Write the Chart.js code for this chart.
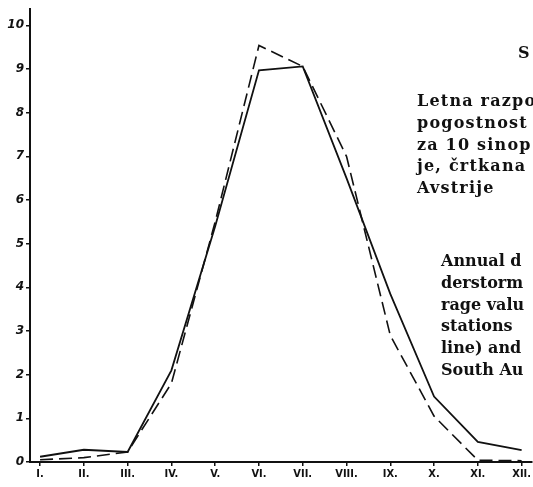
<!DOCTYPE html>
<html>
<head>
<meta charset="utf-8">
<script src="https://cdn.jsdelivr.net/npm/chart.js@4/dist/chart.umd.min.js"></script>
<style>
html,body{margin:0;padding:0;background:#fff;overflow:hidden;width:533px;height:487px;}
#wrap{position:relative;width:533px;height:487px;overflow:hidden;}
canvas{position:absolute;left:0;top:0;}
.t{position:absolute;font-family:"DejaVu Serif",serif;font-weight:bold;color:#111;white-space:nowrap;font-size:16px;line-height:21.8px;}
</style>
</head>
<body>
<div id="wrap">
<canvas id="c" width="533" height="487"></canvas>
<div class="t" style="left:518px;top:42px;">S</div>
<div class="t" style="left:417px;top:90px;letter-spacing:1.2px;">Letna razpo<br>pogostnost<br>za 10 sinop<br>je, črtkana<br>Avstrije</div>
<div class="t" style="left:441px;top:250px;">Annual d<br>derstorm<br>rage valu<br>stations<br>line) and</div>
<div class="t" style="left:441px;top:359px;">South Au</div>
</div>
<script>
const months = ["I.","II.","III.","IV.","V.","VI.","VII.","VIII.","IX.","X.","XI.","XII."];
const yTicks = [0,1,2,3,4,5,6,7,8,9,10];
const solidSeries = [0.12, 0.28, 0.23, 2.1, 5.4, 8.97, 9.06, 6.5, 3.85, 1.5, 0.46, 0.27];
const dashedSeries = [0.05, 0.1, 0.23, 1.8, 5.5, 9.54, 9.06, 7.0, 2.9, 1.05, 0.04, 0.03];

const toPts = arr => arr.map((v,i)=>({x:i,y:v}));

new Chart(document.getElementById('c'), {
  type: 'line',
  data: {
    datasets: [
      {data: toPts(solidSeries), borderColor:'#111', borderWidth:1.8, pointRadius:0, tension:0, fill:false},
      {data: toPts(dashedSeries), borderColor:'#111', borderWidth:1.6, borderDash:[13,6], pointRadius:0, tension:0, fill:false}
    ]
  },
  options: {
    responsive:false, animation:false,
    layout:{padding:{top:8,right:0,left:0,bottom:0}},
    plugins:{legend:{display:false},tooltip:{enabled:false}},
    scales:{
      x:{
        type:'linear', min:-0.23, max:11.23,
        afterBuildTicks: s => { s.ticks = months.map((m,i)=>({value:i})); },
        afterFit: s => { s.height = 25; },
        border:{display:true,color:'#111',width:2},
        grid:{display:true,drawOnChartArea:false,drawTicks:true,tickLength:4,color:'#111',lineWidth:1.5},
        ticks:{color:'#111',padding:2,maxRotation:0,autoSkip:false,
          font:{family:'"DejaVu Sans Condensed","DejaVu Sans",sans-serif',size:11,weight:'bold'},
          callback:(v)=>months[v]}
      },
      y:{
        type:'linear', min:0, max:10.37,
        afterBuildTicks: s => { s.ticks = yTicks.map(v=>({value:v})); },
        afterFit: s => { s.width = 30; },
        border:{display:true,color:'#111',width:2},
        grid:{display:true,drawOnChartArea:false,drawTicks:true,tickLength:4,color:'#111',lineWidth:1.5},
        ticks:{color:'#111',padding:2,
          font:{family:'"DejaVu Sans",sans-serif',size:12,weight:'bold',style:'italic'},
          callback:(v)=>String(v)}
      }
    }
  }
});
</script>
</body>
</html>
